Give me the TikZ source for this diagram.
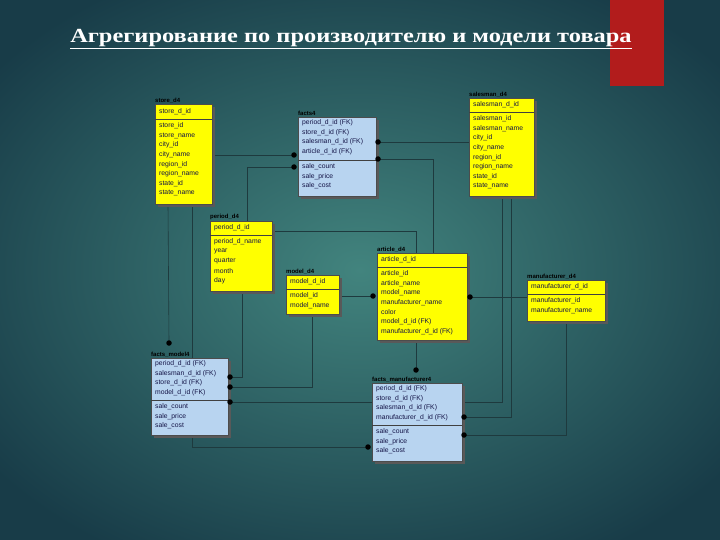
\documentclass[tikz,border=0pt]{standalone}
\usepackage{fontspec}
\setmainfont{Liberation Serif}
\newfontfamily\tabfont{Liberation Sans}
\definecolor{bgin}{RGB}{66,132,126}
\definecolor{bgout}{RGB}{24,60,72}
\definecolor{redbar}{RGB}{178,28,28}
\definecolor{ylw}{RGB}{255,255,0}
\definecolor{blu}{RGB}{184,212,240}
\definecolor{conn}{RGB}{30,58,62}
\newcommand\ertable[8]{%
  \fill[gray!70!black] (#3+3,#4+3) rectangle (#5+3,#6+3);
  \node[tbox,fill=#7,minimum width=#5-#3,minimum height=#6-#4] (#1) at ({(#3+#5)/2},{(#4+#6)/2}) {};
  \draw[sepline] (#3,#8) -- (#5,#8);
  \node[lbl] (#1-l) at (#3,#4-1) {#2};}
\newcommand\errows[4]{%
  \foreach \t [count=\i] in {#4} \node[rowtxt] at (#1+2,{#2+(\i-1)*#3}) {\t};}
\begin{document}
\begin{tikzpicture}[x=1pt,y=-1pt,
  tbox/.style={draw=gray!60!black,line width=0.4pt,inner sep=0pt,outer sep=0pt},
  sepline/.style={draw=gray!50!black,line width=0.4pt},
  lbl/.style={anchor=south west,inner sep=0pt,font=\tabfont\fontsize{6}{6}\selectfont\bfseries,text=black},
  rowtxt/.style={anchor=west,inner sep=0pt,font=\tabfont\fontsize{6.8}{7}\selectfont,text={rgb,255:red,20;green,20;blue,70}},
  link/.style={draw=conn,line width=0.6pt},
  dot/.style={circle,fill=black,inner sep=0pt,minimum size=5.5pt}]
\useasboundingbox (0,0) rectangle (720,540);
\shade[inner color=bgin,outer color=bgout] (-100,-60) rectangle (820,600);
\fill[redbar] (610,0) rectangle (664,86);
\node[text=white,font=\bfseries\fontsize{20}{22}\selectfont,inner sep=0pt] (title) at (351,39) {\scalebox{1.22}[1]{\underline{Агрегирование по производителю и модели товара}}};
% connectors (behind tables)
\coordinate (d1) at (294,155); \coordinate (d2) at (294,167);
\coordinate (d3) at (378,142); \coordinate (d4) at (378,159);
\coordinate (d5) at (373,296); \coordinate (d6) at (470,297);
\coordinate (d7) at (169,343); \coordinate (d8) at (230,377);
\coordinate (d9) at (230,387); \coordinate (d10) at (230,402);
\coordinate (d11) at (416,370); \coordinate (d12) at (464,417);
\coordinate (d13) at (464,435); \coordinate (d14) at (368,447);
\draw[link] (212,155) -- (d1);
\draw[link] (d2) -| (247,221);
\draw[link] (d3) -- (469,142);
\draw[link] (d4) -| (433,253);
\draw[link] (272,231) -| (d11);
\draw[link] (339,296) -- (d5);
\draw[link] (d6) -- (527,297);
\draw[link] (168,204) -- (d7);
\draw[link] (242,291) |- (d8);
\draw[link] (312,314) |- (d9);
\draw[link] (d10) -| (502,196);
\draw[link] (d12) -| (511,196);
\draw[link] (d13) -| (566,321);
\draw[link] (192,204) |- (d14);
% tables
\ertable{store}{store\_d4}{155}{104}{212}{204}{ylw}{119}
\errows{157}{112}{0}{store\_d\_id}
\errows{157}{126}{9.6}{store\_id,store\_name,city\_id,city\_name,region\_id,region\_name,state\_id,state\_name}
\ertable{facts}{facts4}{298}{117}{376}{196}{blu}{160}
\errows{300}{123}{9.6}{period\_d\_id (FK),store\_d\_id (FK),salesman\_d\_id (FK),article\_d\_id (FK)}
\errows{300}{167}{9.6}{sale\_count,sale\_price,sale\_cost}
\ertable{salesman}{salesman\_d4}{469}{98}{534}{196}{ylw}{112}
\errows{471}{105}{0}{salesman\_d\_id}
\errows{471}{119}{9.6}{salesman\_id,salesman\_name,city\_id,city\_name,region\_id,region\_name,state\_id,state\_name}
\ertable{period}{period\_d4}{210}{221}{272}{291}{ylw}{235}
\errows{212}{228}{0}{period\_d\_id}
\errows{212}{242}{9.6}{period\_d\_name,year,quarter,month,day}
\ertable{model}{model\_d4}{286}{275}{339}{314}{ylw}{289}
\errows{288}{282}{0}{model\_d\_id}
\errows{288}{296}{9.6}{model\_id,model\_name}
\ertable{article}{article\_d4}{377}{253}{467}{340}{ylw}{267}
\errows{379}{260}{0}{article\_d\_id}
\errows{379}{274}{9.6}{article\_id,article\_name,model\_name,manufacturer\_name,color,model\_d\_id (FK),manufacturer\_d\_id (FK)}
\ertable{manuf}{manufacturer\_d4}{527}{280}{605}{321}{ylw}{294}
\errows{529}{287}{0}{manufacturer\_d\_id}
\errows{529}{301}{9.6}{manufacturer\_id,manufacturer\_name}
\ertable{fmodel}{facts\_model4}{151}{358}{228}{435}{blu}{400}
\errows{153}{364}{9.6}{period\_d\_id (FK),salesman\_d\_id (FK),store\_d\_id (FK),model\_d\_id (FK)}
\errows{153}{407}{9.6}{sale\_count,sale\_price,sale\_cost}
\ertable{fmanuf}{facts\_manufacturer4}{372}{383}{462}{461}{blu}{425}
\errows{374}{389}{9.6}{period\_d\_id (FK),store\_d\_id (FK),salesman\_d\_id (FK),manufacturer\_d\_id (FK)}
\errows{374}{432}{9.6}{sale\_count,sale\_price,sale\_cost}
% dots
\foreach \d in {d1,d2,d3,d4,d5,d6,d7,d8,d9,d10,d11,d12,d13,d14} \node[dot] (n\d) at (\d) {};
\end{tikzpicture}
\end{document}
